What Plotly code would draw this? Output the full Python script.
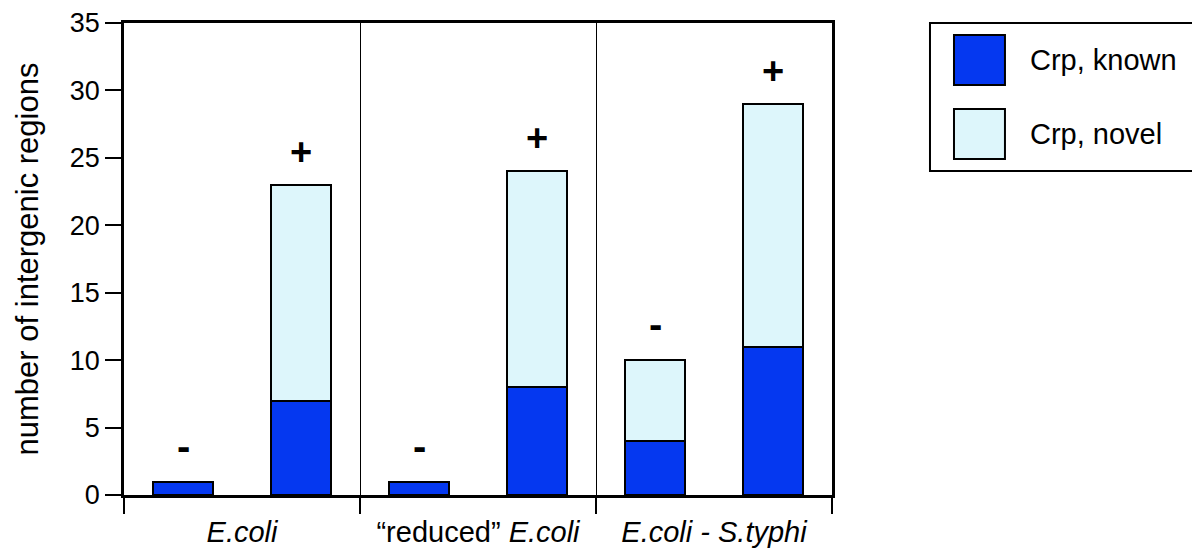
import plotly.graph_objects as go

# ── Data ──────────────────────────────────────────────────────────────────────
groups = ["<i>E.coli</i>", "\u201creduced\u201d <i>E.coli</i>", "<i>E.coli - S.typhi</i>"]
bar_pos = [0.5, 1.5, 2.5, 3.5, 4.5, 5.5]
signs = ["-", "+", "-", "+", "-", "+"]
crp_known = [1, 7, 1, 8, 4, 11]
crp_novel = [0, 16, 0, 16, 6, 18]

KNOWN = "#0538F0"
NOVEL = "#DDF6FB"
FONT = "Liberation Sans, Arial, sans-serif"

fig = go.Figure()
fig.add_trace(go.Bar(x=bar_pos, y=crp_known, name="Crp, known", width=0.51,
                     marker=dict(color=KNOWN, line=dict(color="black", width=2.5))))
fig.add_trace(go.Bar(x=bar_pos, y=crp_novel, name="Crp, novel", width=0.51,
                     marker=dict(color=NOVEL, line=dict(color="black", width=2.5))))

# +/- markers above each bar
for x, k, n, s in zip(bar_pos, crp_known, crp_novel, signs):
    fig.add_annotation(x=x, y=k + n, text=f"<b>{s}</b>", showarrow=False,
                       yanchor="middle", yshift=33 if s == "+" else 36,
                       font=dict(family=FONT, size=38 if s == "+" else 40, color="black"))

# hand-drawn legend box on the right
fig.add_shape(type="rect", xref="paper", yref="paper", x0=1.1384, x1=1.5268, y0=0.6864, y1=1.0,
              line=dict(color="black", width=2), fillcolor="white")
for (y0, y1, yt), col, lab in zip([(0.8686, 0.9746, 0.9216), (0.7119, 0.8178, 0.7648)],
                                  [KNOWN, NOVEL], ["Crp, known", "Crp, novel"]):
    fig.add_shape(type="rect", xref="paper", yref="paper", x0=1.1723, x1=1.2443, y0=y0, y1=y1,
                  line=dict(color="black", width=2), fillcolor=col)
    fig.add_annotation(xref="paper", yref="paper", x=1.2768, y=yt, text=lab, showarrow=False,
                       xanchor="left", yanchor="middle", font=dict(family=FONT, size=29, color="black"))

fig.update_layout(
    width=1200, height=551,
    barmode="stack", bargap=0, showlegend=False,
    paper_bgcolor="white", plot_bgcolor="white",
    font=dict(family=FONT, size=29, color="black"),
    margin=dict(l=116, r=376, t=15, b=64),
)
fig.update_xaxes(
    range=[0, 6], tickvals=[1, 3, 5], ticktext=groups, ticks="",
    showgrid=False, zeroline=False, automargin=False,
    showline=True, linecolor="black", linewidth=2.5, mirror=True,
    ticklabelstandoff=9, tickfont=dict(size=29),
    minor=dict(tickmode="array", tickvals=[0, 2, 4, 6], ticks="outside", ticklen=16,
               tickwidth=1.5, tickcolor="black", showgrid=True, gridcolor="black", gridwidth=1.2),
)
fig.update_yaxes(
    range=[0, 35], dtick=5, ticks="outside", ticklen=16, tickwidth=1.5, tickcolor="black",
    showgrid=False, zeroline=False, automargin=False, ticklabeloverflow="allow",
    showline=True, linecolor="black", linewidth=2.5, mirror=True,
    title=dict(text="number of intergenic regions", standoff=22, font=dict(size=31)),
    tickfont=dict(size=27),
)

fig.write_html("out.html")
